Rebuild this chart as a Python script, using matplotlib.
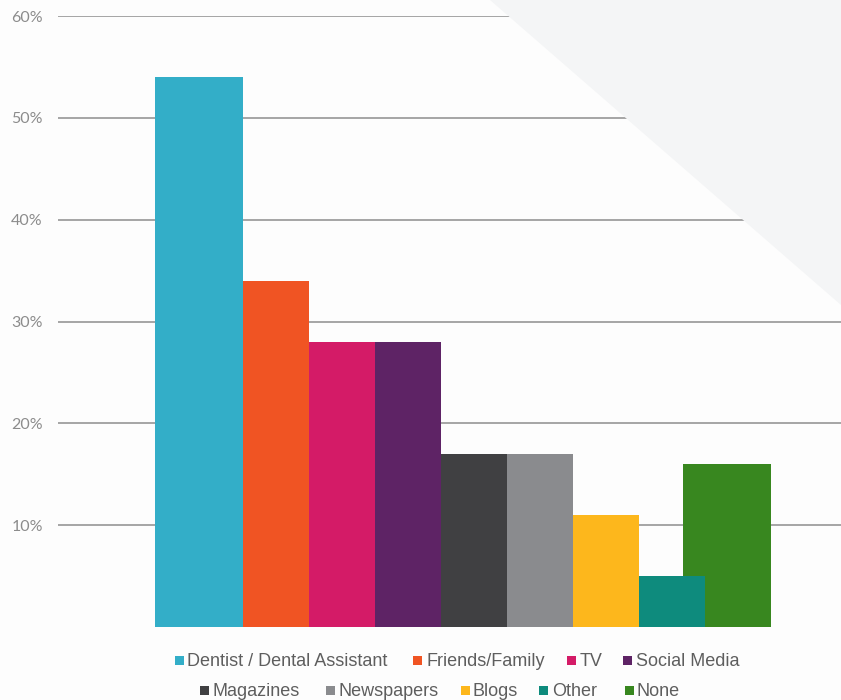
import matplotlib.pyplot as plt
from matplotlib.patches import Polygon, Rectangle

# данные
categories = ['Dentist / Dental Assistant', 'Friends/Family', 'TV', 'Social Media',
              'Magazines', 'Newspapers', 'Blogs', 'Other', 'None']
values = [54, 34, 28, 28, 17, 17, 11, 5, 16]
colors = ['#33aec8', '#f05423', '#d41b67', '#5e2365', '#404042',
          '#8a8b8e', '#fdb71c', '#0e8b7d', '#38871f']
yticks = [10, 20, 30, 40, 50, 60]

W, H = 841, 700
fig = plt.figure(figsize=(W / 100, H / 100), dpi=100)
fig.patch.set_facecolor('#fdfdfd')

# светлый треугольник в правом верхнем углу
tri = Polygon([(490 / W, 1), (1, 1), (1, 1 - 305 / H)], closed=True,
              transform=fig.transFigure, facecolor='#f4f5f6', edgecolor='none', zorder=0)
fig.patches.append(tri)

ax = fig.add_axes([58 / W, (H - 627) / H, 1 - 58 / W, (627 - 16) / H])
ax.patch.set_alpha(0)

# столбцы шириной 88px с шагом 66px, предыдущий поверх следующего
bar_w = 88 / 66
for i, (v, c) in enumerate(zip(values, colors)):
    ax.bar(i, v, width=bar_w, color=c, zorder=20 - i, linewidth=0)

ax.set_xlim((58 - 199) / 66, (841 - 199) / 66)
ax.set_ylim(0, 60)
ax.set_yticks(yticks)
ax.set_yticklabels([f'{t}%' for t in yticks], fontsize=11.5, color='#8c8c8c',
                   family='Lato')
ax.tick_params(axis='y', length=0, pad=11)
ax.set_xticks([])
for t in yticks:
    ax.axhline(t, color='#8e8e8e', linewidth=1.1, zorder=1)
for s in ax.spines.values():
    s.set_visible(False)

# легенда вручную, две строки
row1 = [(175, 187), (413, 426), (567, 580), (623, 636)]
row2 = [(200, 213), (326, 339), (461, 473), (539, 552), (625, 637)]
pos = [(p, 660) for p in row1] + [(p, 690) for p in row2]
for i, ((sq, tx), y) in enumerate(pos):
    fig.patches.append(Rectangle((sq / W, 1 - (y + 4.5) / H), 9 / W, 9 / H,
                                 transform=fig.transFigure, facecolor=colors[i],
                                 edgecolor='none'))
    fig.text(tx / W, 1 - (y + 6) / H, categories[i], ha='left', va='baseline',
             fontsize=13, color='#5e5e5e', family='Liberation Sans')

fig.savefig('out.png', dpi=100, facecolor=fig.get_facecolor())
